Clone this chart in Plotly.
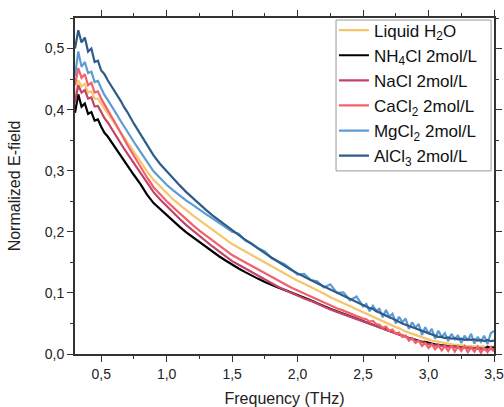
import plotly.graph_objects as go

# Frequency grid (THz)
freq = [0.300, 0.325, 0.350, 0.375, 0.400, 0.425, 0.450, 0.475, 0.500, 0.525, 0.550, 0.575, 0.600, 0.625, 0.650, 0.675, 0.700,
        0.75, 0.80, 0.85, 0.90, 0.95, 1.00, 1.05, 1.10, 1.15, 1.20, 1.25, 1.30, 1.35, 1.40, 1.45, 1.50, 1.55, 1.60,
        1.65, 1.70, 1.75, 1.80, 1.85, 1.90, 1.95, 2.00, 2.05, 2.10, 2.15, 2.20, 2.25, 2.30, 2.35, 2.40, 2.45, 2.50,
        2.525, 2.550, 2.575, 2.600, 2.625, 2.650, 2.675, 2.700, 2.725, 2.750, 2.775, 2.800, 2.825, 2.850, 2.875, 2.900,
        2.925, 2.950, 2.975, 3.000, 3.025, 3.050, 3.075, 3.100, 3.125, 3.150, 3.175, 3.200, 3.225, 3.250, 3.275, 3.300,
        3.325, 3.350, 3.375, 3.400, 3.425, 3.450, 3.475, 3.500]

liquid_h2o = [0.420, 0.448, 0.438, 0.442, 0.428, 0.430, 0.418, 0.418, 0.410, 0.401, 0.394, 0.386, 0.378, 0.370, 0.362, 0.354, 0.346,
              0.330, 0.314, 0.299, 0.285, 0.274, 0.263, 0.253, 0.244, 0.235, 0.227, 0.219, 0.211, 0.203, 0.195, 0.188, 0.180,
              0.174, 0.168, 0.161, 0.155, 0.149, 0.143, 0.137, 0.131, 0.125, 0.120, 0.115, 0.110, 0.104, 0.099, 0.093, 0.088,
              0.083, 0.078, 0.073, 0.068,
              0.066, 0.064, 0.061, 0.059, 0.056, 0.054, 0.051, 0.049, 0.046, 0.044, 0.042, 0.039, 0.037, 0.035, 0.033, 0.031,
              0.029, 0.027, 0.025, 0.024, 0.022, 0.021, 0.020, 0.018, 0.018, 0.016, 0.016, 0.015, 0.015, 0.014, 0.014, 0.013,
              0.013, 0.013, 0.012, 0.012, 0.012, 0.011, 0.011, 0.012]

nh4cl = [0.395, 0.425, 0.405, 0.410, 0.393, 0.396, 0.382, 0.384, 0.372, 0.362, 0.356, 0.348, 0.340, 0.331, 0.323, 0.315, 0.307,
         0.293, 0.278, 0.261, 0.247, 0.237, 0.227, 0.217, 0.208, 0.199, 0.191, 0.183, 0.175, 0.168, 0.160, 0.153, 0.146,
         0.140, 0.134, 0.128, 0.123, 0.118, 0.113, 0.109, 0.105, 0.101, 0.097, 0.092, 0.088, 0.083, 0.078, 0.074, 0.070,
         0.066, 0.062, 0.058, 0.054,
         0.052, 0.049, 0.048, 0.045, 0.044, 0.041, 0.040, 0.037, 0.036, 0.033, 0.032, 0.030, 0.029, 0.026, 0.025, 0.023,
         0.022, 0.020, 0.020, 0.018, 0.017, 0.016, 0.015, 0.014, 0.014, 0.013, 0.012, 0.012, 0.011, 0.011, 0.010, 0.010,
         0.010, 0.009, 0.009, 0.009, 0.008, 0.012, 0.010, 0.011]

nacl = [0.412, 0.440, 0.428, 0.432, 0.418, 0.420, 0.405, 0.406, 0.396, 0.386, 0.379, 0.370, 0.362, 0.353, 0.345, 0.336, 0.328,
        0.312, 0.296, 0.279, 0.265, 0.253, 0.242, 0.231, 0.221, 0.211, 0.202, 0.193, 0.184, 0.176, 0.168, 0.160, 0.152,
        0.146, 0.140, 0.133, 0.127, 0.121, 0.115, 0.110, 0.105, 0.100, 0.096, 0.091, 0.087, 0.082, 0.077, 0.073, 0.069,
        0.065, 0.061, 0.057, 0.053,
        0.051, 0.050, 0.047, 0.046, 0.043, 0.042, 0.039, 0.038, 0.035, 0.034, 0.031, 0.030, 0.027, 0.026, 0.024, 0.022,
        0.021, 0.019, 0.018, 0.016, 0.016, 0.014, 0.014, 0.013, 0.013, 0.012, 0.012, 0.011, 0.011, 0.010, 0.010, 0.010,
        0.009, 0.009, 0.009, 0.008, 0.008, 0.008, 0.008, 0.008]

cacl2 = [0.440, 0.468, 0.452, 0.458, 0.440, 0.444, 0.428, 0.430, 0.418, 0.408, 0.400, 0.390, 0.381, 0.372, 0.362, 0.352, 0.342,
         0.324, 0.306, 0.289, 0.273, 0.261, 0.250, 0.240, 0.230, 0.220, 0.211, 0.202, 0.194, 0.186, 0.178, 0.170, 0.162,
         0.156, 0.150, 0.144, 0.138, 0.132, 0.126, 0.120, 0.114, 0.109, 0.104, 0.099, 0.094, 0.089, 0.084, 0.080, 0.075,
         0.071, 0.066, 0.062, 0.058,
         0.057, 0.053, 0.054, 0.049, 0.048, 0.043, 0.045, 0.038, 0.040, 0.033, 0.035, 0.028, 0.030, 0.022, 0.026, 0.018,
         0.022, 0.013, 0.018, 0.010, 0.016, 0.008, 0.014, 0.006, 0.013, 0.005, 0.014, 0.004, 0.012, 0.005, 0.013, 0.003,
         0.011, 0.004, 0.012, 0.002, 0.010, 0.003, 0.011, 0.004]

mgcl2 = [0.455, 0.495, 0.470, 0.478, 0.460, 0.462, 0.445, 0.447, 0.435, 0.424, 0.416, 0.408, 0.399, 0.390, 0.381, 0.372, 0.363,
         0.347, 0.331, 0.314, 0.299, 0.288, 0.277, 0.268, 0.259, 0.251, 0.244, 0.236, 0.229, 0.222, 0.215, 0.208, 0.200,
         0.197, 0.186, 0.181, 0.173, 0.168, 0.157, 0.152, 0.147, 0.139, 0.130, 0.131, 0.121, 0.119, 0.109, 0.114, 0.100,
         0.101, 0.088, 0.094, 0.078,
         0.082, 0.070, 0.079, 0.071, 0.074, 0.060, 0.072, 0.061, 0.066, 0.050, 0.061, 0.052, 0.058, 0.041, 0.052, 0.043,
         0.049, 0.031, 0.044, 0.033, 0.041, 0.025, 0.038, 0.028, 0.034, 0.021, 0.033, 0.024, 0.031, 0.018, 0.030, 0.022,
         0.033, 0.017, 0.028, 0.020, 0.030, 0.016, 0.034, 0.038]

alcl3 = [0.500, 0.530, 0.510, 0.518, 0.495, 0.500, 0.478, 0.480, 0.464, 0.458, 0.448, 0.440, 0.431, 0.422, 0.414, 0.404, 0.396,
         0.377, 0.359, 0.341, 0.325, 0.311, 0.299, 0.287, 0.276, 0.265, 0.255, 0.245, 0.236, 0.227, 0.219, 0.210, 0.202,
         0.194, 0.187, 0.180, 0.172, 0.165, 0.158, 0.151, 0.145, 0.138, 0.132, 0.126, 0.121, 0.116, 0.111, 0.106, 0.101,
         0.096, 0.090, 0.085, 0.080,
         0.078, 0.075, 0.074, 0.070, 0.068, 0.065, 0.063, 0.060, 0.058, 0.055, 0.053, 0.050, 0.048, 0.046, 0.043, 0.041,
         0.039, 0.037, 0.035, 0.033, 0.031, 0.030, 0.028, 0.028, 0.026, 0.027, 0.025, 0.026, 0.024, 0.025, 0.023, 0.024,
         0.023, 0.024, 0.022, 0.023, 0.021, 0.023, 0.021, 0.022]

series_names = ["Liquid H<sub>2</sub>O", "NH<sub>4</sub>Cl 2mol/L", "NaCl 2mol/L",
                "CaCl<sub>2</sub> 2mol/L", "MgCl<sub>2</sub> 2mol/L", "AlCl<sub>3</sub> 2mol/L"]
series_values = [liquid_h2o, nh4cl, nacl, cacl2, mgcl2, alcl3]
series_colors = ["#F6C66B", "#000000", "#C2446B", "#F2616B", "#5C9BD3", "#2F5B88"]

FONT = "Liberation Sans"

fig = go.Figure()
for i, (name, vals, col) in enumerate(zip(series_names, series_values, series_colors)):
    fig.add_trace(go.Scatter(x=freq, y=vals, mode="lines", name=name,
                             legendgroup=f"g{i}",
                             line=dict(color=col, width=2.2)))

axis_common = dict(
    showline=True, linecolor="#333333", linewidth=1.8, mirror="ticks",
    ticks="outside", ticklen=6, tickwidth=1.3, tickcolor="#333333",
    showgrid=False, zeroline=False, automargin=False,
    tickfont=dict(family=FONT, size=14, color="#222222"),
)

fig.update_xaxes(range=[0.3, 3.5], tick0=0.5, dtick=0.5, tickformat=".1f",
                 minor=dict(ticks="outside", dtick=0.25, tick0=0.25, ticklen=3, tickcolor="#333333"),
                 title=dict(text="Frequency (THz)", font=dict(family=FONT, size=16, color="#222222"), standoff=13),
                 **axis_common)
fig.update_yaxes(range=[0, 0.55], tick0=0, dtick=0.1, tickformat=".1f",
                 minor=dict(ticks="outside", dtick=0.05, ticklen=3, tickcolor="#333333"),
                 title=dict(text="Normalized E-field", font=dict(family=FONT, size=16, color="#222222"), standoff=20),
                 **axis_common)

# Legend frame (drawn as a shape so its size matches the original box)
fig.add_shape(type="rect", xref="paper", yref="paper",
              x0=0.623, x1=0.993, y0=0.545, y1=0.994,
              fillcolor="white", line=dict(color="#999999", width=1), layer="above")

fig.update_layout(
    width=504, height=407,
    margin=dict(l=75, r=10, t=18, b=53),
    plot_bgcolor="white", paper_bgcolor="white",
    separators=", ",
    legend=dict(x=0.618, y=1.016, xanchor="left", yanchor="top",
                bgcolor="rgba(0,0,0,0)", borderwidth=0,
                tracegroupgap=0,
                font=dict(family=FONT, size=17, color="#111111")),
)

fig.write_html("out.html", config={"displayModeBar": False},
               post_script="document.body.style.margin='0';")
